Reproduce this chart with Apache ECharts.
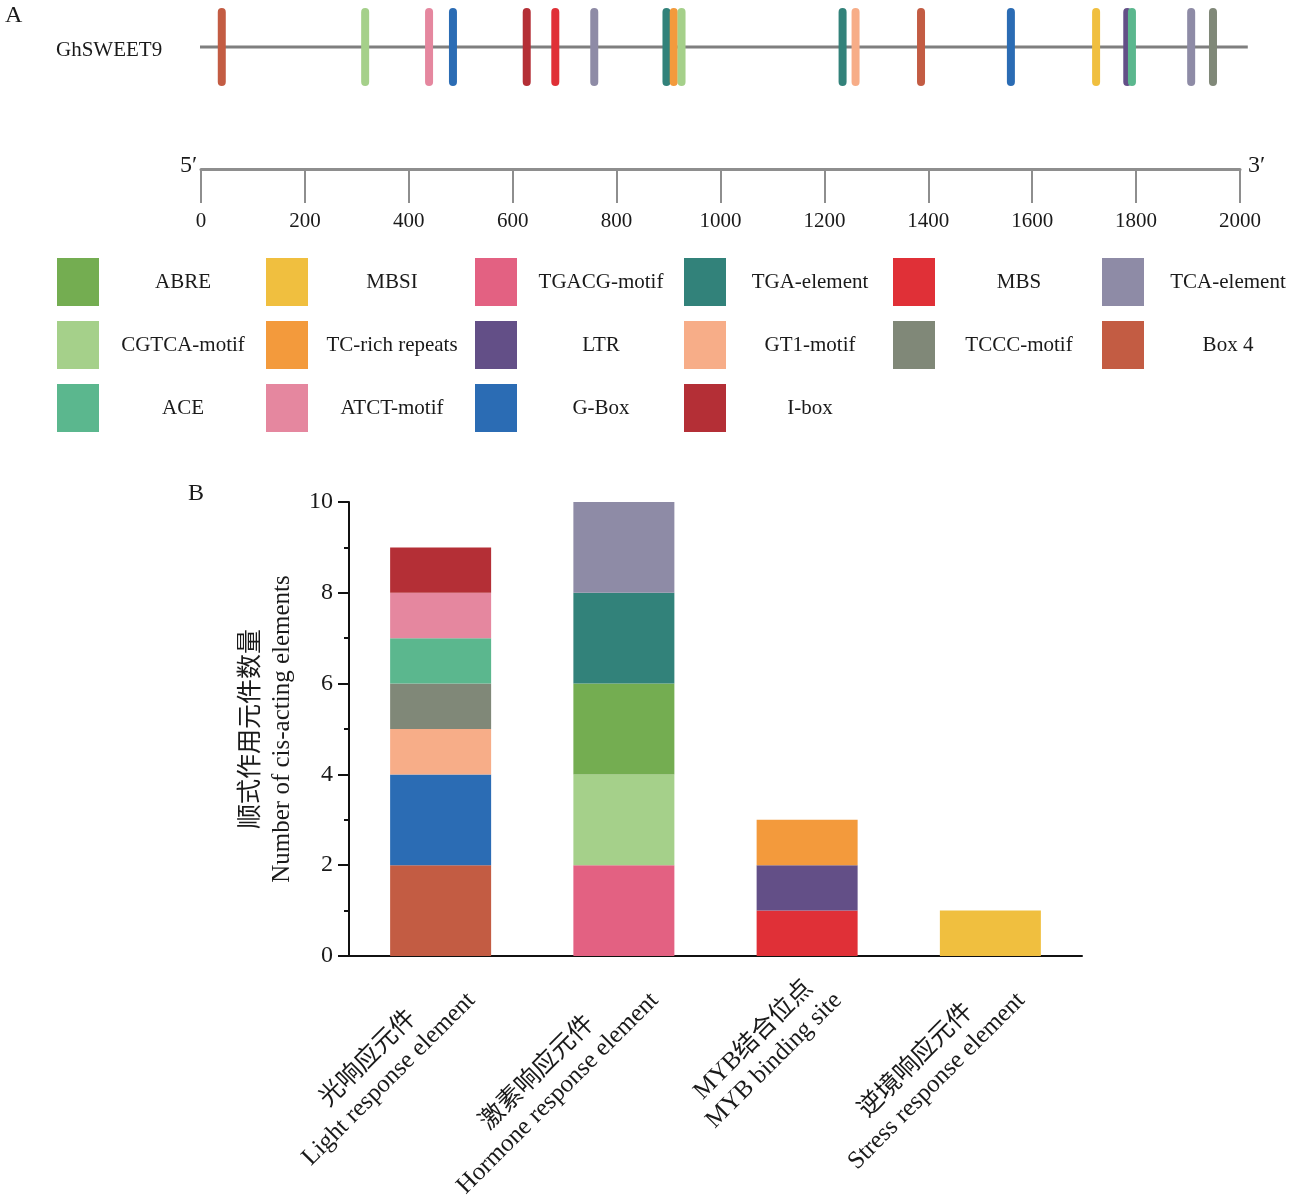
<!DOCTYPE html>
<html>
<head>
<meta charset="utf-8">
<script src="https://cdn.jsdelivr.net/npm/echarts@6/dist/echarts.min.js"></script>
<style>html,body{margin:0;padding:0;background:#fff}#c{width:1294px;height:1202px}</style>
</head>
<body>
<div id="c"></div>
<script>
// ---------- data ----------
const geneName = 'GhSWEET9';
const promoterLength = 2015;
const rulerTicks = [0, 200, 400, 600, 800, 1000, 1200, 1400, 1600, 1800, 2000];

const legendNames = ['ABRE','MBSI','TGACG-motif','TGA-element','MBS','TCA-element',
  'CGTCA-motif','TC-rich repeats','LTR','GT1-motif','TCCC-motif','Box 4',
  'ACE','ATCT-motif','G-Box','I-box'];
const legendColors = ['#74ad51','#f0bf3f','#e36182','#32827a','#e03037','#8e8ba6',
  '#a5d08a','#f39a3c','#634f87','#f7ad88','#808878','#c35c43',
  '#5bb78e','#e5879f','#2b6cb4','#b42f36'];

const siteElements = ['Box 4','CGTCA-motif','ATCT-motif','G-Box','I-box','MBS','TCA-element',
  'TGA-element','TC-rich repeats','CGTCA-motif','TGA-element','GT1-motif','Box 4','G-Box',
  'MBSI','LTR','ACE','TCA-element','TCCC-motif'];
const sitePositions = [40, 316, 439, 485, 627, 682, 757, 896, 910, 925, 1235, 1260, 1386, 1559,
  1723, 1783, 1792, 1906, 1948];

const categoriesZh = ['光响应元件','激素响应元件','MYB结合位点','逆境响应元件'];
const categoriesEn = ['Light response element','Hormone response element','MYB binding site','Stress response element'];

const lightElements = ['Box 4','G-Box','GT1-motif','TCCC-motif','ACE','ATCT-motif','I-box'];
const lightCounts = [2, 2, 1, 1, 1, 1, 1];
const hormoneElements = ['TGACG-motif','CGTCA-motif','ABRE','TGA-element','TCA-element'];
const hormoneCounts = [2, 2, 2, 2, 2];
const mybElements = ['MBS','LTR','TC-rich repeats'];
const mybCounts = [1, 1, 1];
const stressElements = ['MBSI'];
const stressCounts = [1];

const yTicks = [0, 2, 4, 6, 8, 10];

// ---------- build ----------
const FONT = "'Liberation Serif', 'Times New Roman', 'Noto Sans CJK SC', serif";
const TXT = '#1a1a1a';
const colorOf = name => legendColors[legendNames.indexOf(name)];

const groups = [
  [lightElements, lightCounts],
  [hormoneElements, hormoneCounts],
  [mybElements, mybCounts],
  [stressElements, stressCounts]
];
const barSeries = [];
groups.forEach((g, ci) => {
  g[0].forEach((el, k) => {
    const data = categoriesEn.map((_, j) => j === ci ? g[1][k] : '-');
    barSeries.push({
      type: 'bar', name: el, stack: 'total', xAxisIndex: 1, yAxisIndex: 1,
      barWidth: 101, data: data, itemStyle: { color: colorOf(el) }, silent: true
    });
  });
});

const graphic = [];
graphic.push({ type: 'text', left: 5, top: 4, style: { text: 'A', font: '24px ' + FONT, fill: TXT } });
graphic.push({ type: 'text', left: 188, top: 482, style: { text: 'B', font: '24px ' + FONT, fill: TXT } });
graphic.push({ type: 'text', x: 56, y: 50, style: { text: geneName, font: '21px ' + FONT, fill: TXT, verticalAlign: 'middle' } });
graphic.push({ type: 'text', x: 180, y: 166, style: { text: "5\u2032", font: '24px ' + FONT, fill: TXT, verticalAlign: 'middle' } });
graphic.push({ type: 'text', x: 1248, y: 166, style: { text: "3\u2032", font: '24px ' + FONT, fill: TXT, verticalAlign: 'middle' } });
legendNames.forEach((n, i) => {
  const col = i % 6, row = Math.floor(i / 6);
  const x0 = 57 + 209 * col, y0 = 258 + 63 * row;
  graphic.push({ type: 'rect', shape: { x: x0, y: y0, width: 42, height: 48 }, style: { fill: legendColors[i] } });
  graphic.push({ type: 'text', x: x0 + 126, y: y0 + 24, style: { text: n, font: '21px ' + FONT, fill: TXT, align: 'center', verticalAlign: 'middle' } });
});

const chart = echarts.init(document.getElementById('c'));
chart.setOption({
  animation: false,
  backgroundColor: '#fff',
  textStyle: { fontFamily: FONT },
  grid: [
    { left: 201, right: 54, top: 47, height: 122, containLabel: false, outerBoundsMode: 'none' },
    { left: 349, right: 212, top: 502, bottom: 246, containLabel: false, outerBoundsMode: 'none' }
  ],
  xAxis: [
    {
      gridIndex: 0, type: 'value', min: 0, max: 2000, interval: 200,
      axisLine: { lineStyle: { color: '#8e8e8e', width: 3 } },
      axisTick: { length: 34, lineStyle: { color: '#8e8e8e', width: 2 } },
      axisLabel: { margin: 42, fontSize: 21, color: TXT, fontFamily: FONT,
        formatter: v => rulerTicks.indexOf(v) >= 0 ? String(v) : '' },
      splitLine: { show: false }
    },
    {
      gridIndex: 1, type: 'category', data: categoriesEn,
      axisLine: { lineStyle: { color: '#111', width: 2 } },
      axisTick: { length: 6, lineStyle: { color: '#111', width: 2 } },
      axisLabel: {
        interval: 0, rotate: 45, margin: 10, align: 'right', verticalAlign: 'top',
        formatter: (v, i) => '{zh|' + categoriesZh[i] + '}\n{en|' + v + '}',
        rich: {
          zh: { fontSize: 25, lineHeight: 29, align: 'center', color: TXT, fontFamily: FONT },
          en: { fontSize: 25, lineHeight: 29, align: 'center', color: TXT, fontFamily: FONT }
        }
      }
    },
    {
      gridIndex: 1, type: 'category', data: categoriesEn, position: 'bottom',
      axisLine: { show: false },
      axisTick: { alignWithLabel: true, length: 12, lineStyle: { color: '#111', width: 2 } },
      axisLabel: { show: false }
    }
  ],
  yAxis: [
    { gridIndex: 0, type: 'value', min: 0, max: 1, show: false },
    {
      gridIndex: 1, type: 'value', min: 0, max: 10, interval: 2,
      name: '顺式作用元件数量\nNumber of cis-acting elements',
      nameLocation: 'middle', nameGap: 51, nameRotate: 90,
      nameTextStyle: { fontSize: 25, lineHeight: 31, color: TXT, fontFamily: FONT },
      axisLine: { show: true, lineStyle: { color: '#111', width: 2 } },
      axisTick: { show: true, length: 11, lineStyle: { color: '#111', width: 2 } },
      minorTick: { show: true, splitNumber: 2, length: 5, lineStyle: { color: '#111', width: 2 } },
      axisLabel: { fontSize: 24, margin: 16, color: TXT, fontFamily: FONT,
        formatter: v => yTicks.indexOf(v) >= 0 ? String(v) : '' },
      splitLine: { show: false }
    }
  ],
  series: [
    {
      type: 'custom', xAxisIndex: 0, yAxisIndex: 0, clip: false, silent: true,
      data: [[0, promoterLength, 1]],
      renderItem: (params, api) => {
        const a = api.coord([api.value(0), api.value(2)]);
        const b = api.coord([api.value(1), api.value(2)]);
        return { type: 'line', shape: { x1: a[0] - 1, y1: a[1], x2: b[0], y2: b[1] },
          style: { stroke: '#7f7f7f', lineWidth: 3 } };
      }
    },
    {
      type: 'custom', xAxisIndex: 0, yAxisIndex: 0, clip: false, silent: true,
      data: sitePositions.map((p, i) => ({ value: [p, 1], itemStyle: { color: colorOf(siteElements[i]) } })),
      renderItem: (params, api) => {
        const pt = api.coord([api.value(0), api.value(1)]);
        return { type: 'rect', shape: { x: pt[0] - 4, y: pt[1] - 39, width: 8, height: 78, r: 4 },
          style: { fill: api.visual('color') } };
      }
    }
  ].concat(barSeries),
  graphic: graphic
});
</script>
</body>
</html>
